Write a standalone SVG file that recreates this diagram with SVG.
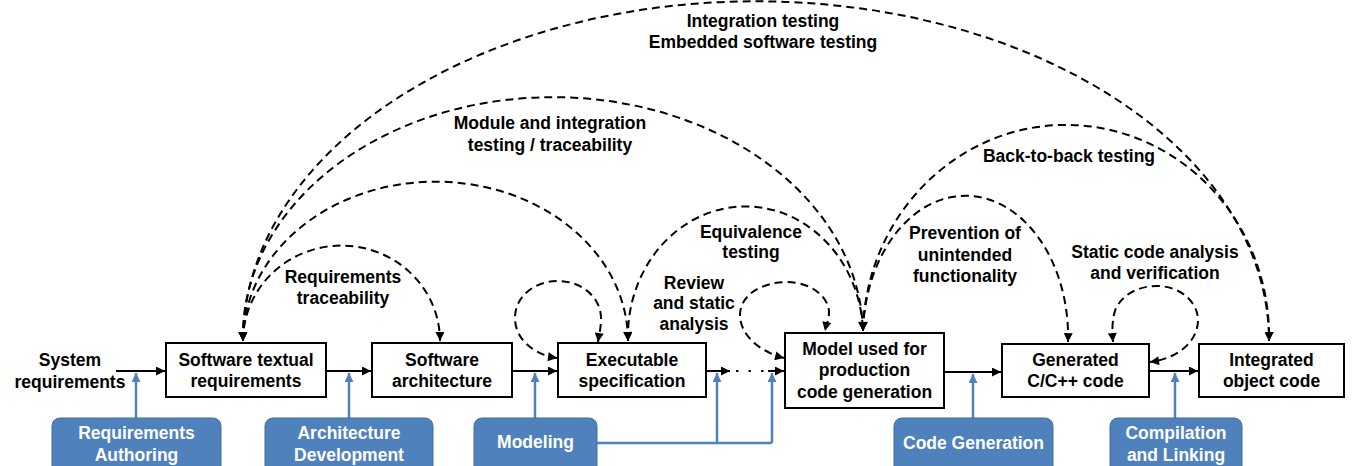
<svg xmlns="http://www.w3.org/2000/svg" width="1358" height="466" viewBox="0 0 1358 466">
<style>
.box{fill:#fff;stroke:#000;stroke-width:2}
.bbox{fill:#4F81BD;stroke:#41719C;stroke-width:1}
.t{font-family:"Liberation Sans",Arial,sans-serif;font-weight:bold;font-size:17.5px;text-anchor:middle;fill:#000}
.tw{fill:#fff}
.dash{fill:none;stroke:#000;stroke-width:2;stroke-dasharray:8 5}
.solid{fill:none;stroke:#000;stroke-width:2}
.blue{fill:none;stroke:#4F81BD;stroke-width:2.5}
</style>
<defs>
<marker id="ah" viewBox="0 0 10 10" refX="10" refY="5" markerWidth="10" markerHeight="9" markerUnits="userSpaceOnUse" orient="auto-start-reverse"><path d="M0,0 L10,5 L0,10 z" fill="#000"/></marker>
<marker id="ahb" viewBox="0 0 10 10" refX="10" refY="5" markerWidth="10" markerHeight="9" markerUnits="userSpaceOnUse" orient="auto-start-reverse"><path d="M0,0 L10,5 L0,10 z" fill="#4F81BD"/></marker>
</defs>

<g id="connectors">
<!-- main flow -->
<path class="solid" d="M116 371 L165 371" marker-end="url(#ah)"/>
<path class="solid" d="M326 371 L371 371" marker-end="url(#ah)"/>
<path class="solid" d="M512 371 L557 371" marker-end="url(#ah)"/>
<path class="solid" d="M706 371 L730 371" marker-end="url(#ah)"/>
<path class="solid" d="M736 371 L766 371" style="stroke-dasharray:2.5 10"/>
<path class="solid" d="M768 371 L784 371" marker-end="url(#ah)"/>
<path class="solid" d="M944 372 L1001 372" marker-end="url(#ah)"/>
<path class="solid" d="M1149 371 L1198 371" marker-end="url(#ah)"/>
<!-- blue tool arrows -->
<path class="blue" d="M136 418 L136 373" marker-end="url(#ahb)"/>
<path class="blue" d="M349 418 L349 373" marker-end="url(#ahb)"/>
<path class="blue" d="M535 418 L535 373" marker-end="url(#ahb)"/>
<path class="blue" d="M597 443 L772 443"/>
<path class="blue" d="M717 443 L717 373" marker-end="url(#ahb)"/>
<path class="blue" d="M772 443 L772 373" marker-end="url(#ahb)"/>
<path class="blue" d="M973 418 L973 374" marker-end="url(#ahb)"/>
<path class="blue" d="M1175 418 L1175 373" marker-end="url(#ahb)"/>
<!-- dashed arcs -->
<path class="dash" d="M243 341 A512 339 0 0 1 1269 341" marker-start="url(#ah)" marker-end="url(#ah)"/>
<path class="dash" d="M243 341 A309 238 0 0 1 863 331" marker-start="url(#ah)" marker-end="url(#ah)"/>
<path class="dash" d="M243 341 A192 159 0 0 1 628 341" marker-start="url(#ah)" marker-end="url(#ah)"/>
<path class="dash" d="M243 341 A98 95 0 0 1 440 341" marker-start="url(#ah)" marker-end="url(#ah)"/>
<path class="dash" d="M628 341 A117 129 0 0 1 863 331" marker-start="url(#ah)" marker-end="url(#ah)"/>
<path class="dash" d="M863 331 A202 210 0 0 1 1269 341" marker-start="url(#ah)" marker-end="url(#ah)"/>
<path class="dash" d="M863 331 A102 140 0 0 1 1068 342" marker-start="url(#ah)" marker-end="url(#ah)"/>
<!-- self loops -->
<path class="dash" d="M557 358 C535 355 515 340 515 318 C515 296 535 281 558 281 C582 281 601 298 601 318 C601 328 599 335 598 342" marker-start="url(#ah)" marker-end="url(#ah)"/>
<path class="dash" d="M784 358 C760 352 740 335 740 315 C740 295 762 282 787 282 C812 282 829 298 829 312 C829 320 826 326 825 331" marker-start="url(#ah)" marker-end="url(#ah)"/>
<path class="dash" d="M1113 342 C1112 330 1112 318 1116 308 C1124 293 1140 286 1157 286 C1180 286 1198 302 1198 320 C1198 340 1180 358 1150 362" marker-start="url(#ah)" marker-end="url(#ah)"/>
</g>

<g id="labels">
<text class="t" x="763" y="27">Integration testing</text>
<text class="t" x="763" y="48">Embedded software testing</text>
<text class="t" x="550" y="129">Module and integration</text>
<text class="t" x="550" y="151">testing / traceability</text>
<text class="t" x="343" y="283">Requirements</text>
<text class="t" x="343" y="304">traceability</text>
<text class="t" x="751" y="238">Equivalence</text>
<text class="t" x="751" y="258">testing</text>
<text class="t" x="694" y="289">Review</text>
<text class="t" x="694" y="309">and static</text>
<text class="t" x="694" y="330">analysis</text>
<text class="t" x="965" y="239">Prevention of</text>
<text class="t" x="965" y="261">unintended</text>
<text class="t" x="965" y="282">functionality</text>
<text class="t" x="1069" y="162">Back-to-back testing</text>
<text class="t" x="1155" y="258">Static code analysis</text>
<text class="t" x="1155" y="279">and verification</text>
</g>

<g id="system-requirements">
<text class="t" x="70" y="366">System</text>
<text class="t" x="70" y="388">requirements</text>
</g>

<g id="software-textual-requirements">
<rect class="box" x="166" y="343" width="160" height="54"/>
<text class="t" x="246" y="366">Software textual</text>
<text class="t" x="246" y="387">requirements</text>
</g>
<g id="software-architecture">
<rect class="box" x="372" y="343" width="140" height="54"/>
<text class="t" x="442" y="366">Software</text>
<text class="t" x="442" y="387">architecture</text>
</g>
<g id="executable-specification">
<rect class="box" x="558" y="343" width="148" height="54"/>
<text class="t" x="632" y="366">Executable</text>
<text class="t" x="632" y="387">specification</text>
</g>
<g id="model-production">
<rect class="box" x="785" y="333" width="159" height="75"/>
<text class="t" x="864.5" y="355">Model used for</text>
<text class="t" x="864.5" y="376">production</text>
<text class="t" x="864.5" y="398">code generation</text>
</g>
<g id="generated-code">
<rect class="box" x="1002" y="344" width="147" height="53"/>
<text class="t" x="1075.5" y="366">Generated</text>
<text class="t" x="1075.5" y="387">C/C++ code</text>
</g>
<g id="integrated-object-code">
<rect class="box" x="1199" y="344" width="145" height="53"/>
<text class="t" x="1271.5" y="366">Integrated</text>
<text class="t" x="1271.5" y="387">object code</text>
</g>

<g id="requirements-authoring">
<rect class="bbox" x="52" y="418" width="169" height="60" rx="8"/>
<text class="t tw" x="136.5" y="439">Requirements</text>
<text class="t tw" x="136.5" y="461">Authoring</text>
</g>
<g id="architecture-development">
<rect class="bbox" x="265" y="418" width="168" height="60" rx="8"/>
<text class="t tw" x="349" y="439">Architecture</text>
<text class="t tw" x="349" y="461">Development</text>
</g>
<g id="modeling">
<rect class="bbox" x="474" y="418" width="123" height="60" rx="8"/>
<text class="t tw" x="535.5" y="448">Modeling</text>
</g>
<g id="code-generation">
<rect class="bbox" x="894" y="418" width="159" height="60" rx="8"/>
<text class="t tw" x="973.5" y="449">Code Generation</text>
</g>
<g id="compilation-linking">
<rect class="bbox" x="1110" y="418" width="132" height="60" rx="8"/>
<text class="t tw" x="1176" y="439">Compilation</text>
<text class="t tw" x="1176" y="461">and Linking</text>
</g>
</svg>
